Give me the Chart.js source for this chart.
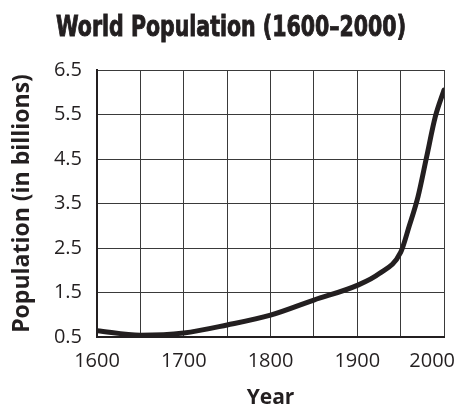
<!DOCTYPE html>
<html>
<head>
<meta charset="utf-8">
<script src="https://cdn.jsdelivr.net/npm/chart.js@4"></script>
<style>
  html, body { margin: 0; padding: 0; background: #fff; }
  #wrap { width: 459px; height: 408px; }
</style>
</head>
<body>
<div id="wrap"><canvas id="popChart" width="459" height="408"></canvas></div>
<script>
// data
const years = [1600, 1650, 1700, 1750, 1800, 1850, 1900, 1925, 1950, 1960, 1970, 1980, 1990, 2000];
const population = [0.64, 0.54, 0.59, 0.77, 0.99, 1.33, 1.66, 1.92, 2.4, 3.0, 3.65, 4.55, 5.45, 6.05];
const xLabels = [1600, 1700, 1800, 1900, 2000];
const yTicks = [0.5, 1.5, 2.5, 3.5, 4.5, 5.5, 6.5];
const titleText = 'World Population (1600–2000)';

const ink = '#231f20';
const tickFont = { family: 'Open Sans', size: 20 };

// x tick labels drawn by hand so the last one can be pulled inside the canvas
const xLabelPlugin = {
    id: 'xLabels',
    afterDraw(chart) {
        const ctx = chart.ctx;
        const x = chart.scales.x;
        ctx.save();
        ctx.font = tickFont.size + 'px "' + tickFont.family + '"';
        ctx.fillStyle = ink;
        ctx.textBaseline = 'middle';
        ctx.textAlign = 'center';
        xLabels.forEach(function(v) {
            let px = x.getPixelForValue(v);
            const w = ctx.measureText(String(v)).width;
            if (px + w / 2 > chart.width - 4) px = chart.width - 4 - w / 2;
            ctx.fillText(String(v), px, x.top + 24);
        });
        ctx.restore();
    }
};

// condensed heavy title (no condensed family by name, so try font-stretch, then squeeze)
const titlePlugin = {
    id: 'condTitle',
    afterDraw(chart) {
        const ctx = chart.ctx;
        ctx.save();
        ctx.font = 'bold 28px "DejaVu Sans"';
        if ('fontStretch' in ctx) ctx.fontStretch = 'condensed';
        ctx.fillStyle = ink;
        ctx.strokeStyle = ink;
        ctx.lineWidth = 0.9;
        ctx.textAlign = 'center';
        ctx.textBaseline = 'alphabetic';
        const w = ctx.measureText(titleText).width;
        const target = 350;
        ctx.translate(231, 36);
        ctx.scale(Math.min(1, target / w), 1);
        ctx.fillText(titleText, 0, 0);
        ctx.strokeText(titleText, 0, 0);
        ctx.restore();
    }
};

const ctx = document.getElementById('popChart').getContext('2d');
const popChart = new Chart(ctx, {
    type: 'line',
    data: {
        datasets: [{
            data: years.map(function(y, i) { return { x: y, y: population[i] }; }),
            borderColor: ink,
            borderWidth: 5,
            pointRadius: 0,
            fill: false,
            cubicInterpolationMode: 'monotone',
            borderCapStyle: 'round'
        }]
    },
    options: {
        responsive: false,
        animation: false,
        layout: { padding: { left: 0, right: 15, top: 70, bottom: 0 } },
        plugins: {
            legend: { display: false },
            tooltip: { enabled: false },
            title: { display: false }
        },
        scales: {
            x: {
                type: 'linear',
                min: 1600,
                max: 2000,
                ticks: { stepSize: 50, color: 'rgba(0,0,0,0)', font: tickFont },
                grid: { color: '#3a3a3a', lineWidth: 1, drawTicks: false },
                border: { color: ink, width: 2 },
                title: {
                    display: true,
                    text: 'Year',
                    color: ink,
                    font: { family: 'Open Sans', size: 21, weight: 'bold', lineHeight: 1 },
                    padding: { top: 0, bottom: -1 }
                },
                afterFit(scale) {
                    scale.height = 71;
                    scale.paddingLeft = 0;
                    scale.paddingRight = 0;
                }
            },
            y: {
                min: 0.5,
                max: 6.5,
                afterBuildTicks(scale) {
                    scale.ticks = yTicks.map(function(v) { return { value: v }; });
                },
                ticks: { color: ink, font: tickFont, padding: 15 },
                grid: { color: '#3a3a3a', lineWidth: 1, drawTicks: false },
                border: { color: ink, width: 2 },
                title: {
                    display: true,
                    text: 'Population (in billions)',
                    color: ink,
                    font: { family: 'Open Sans', size: 23, weight: 'bold', lineHeight: 1 },
                    padding: { top: 11, bottom: 0 }
                },
                afterFit(scale) {
                    scale.width = 97;
                    scale.paddingTop = 0;
                    scale.paddingBottom = 0;
                }
            }
        }
    },
    plugins: [xLabelPlugin, titlePlugin]
});
</script>
</body>
</html>
